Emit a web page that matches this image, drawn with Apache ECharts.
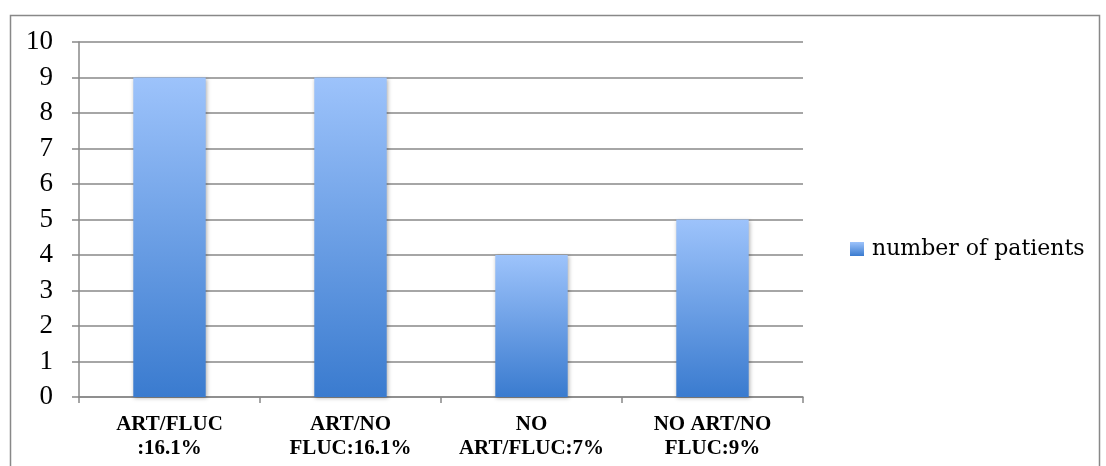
<!DOCTYPE html>
<html>
<head>
<meta charset="utf-8">
<script src="https://cdn.jsdelivr.net/npm/echarts@6/dist/echarts.min.js"></script>
<style>
html,body{margin:0;padding:0;background:#fff;}
#chart{width:1106px;height:466px;}
</style>
</head>
<body>
<div id="chart"></div>
<script>
const categories = ['ART/FLUC\n:16.1%', 'ART/NO\nFLUC:16.1%', 'NO\nART/FLUC:7%', 'NO ART/NO\nFLUC:9%'];
const patients = [9, 9, 4, 5];
const seriesName = 'number of patients';

const chart = echarts.init(document.getElementById('chart'));
function grad() {
  return new echarts.graphic.LinearGradient(0, 0, 0, 1, [
    {offset: 0, color: '#9dc3fb'},
    {offset: 1, color: '#3a7bcf'}
  ]);
}
chart.setOption({
  animation: false,
  backgroundColor: '#fff',
  graphic: [{
    type: 'rect', left: 8, top: 13, shape: {x: 0, y: 0, width: 1089, height: 470},
    style: {fill: 'none', stroke: '#888', lineWidth: 1.5}, z: -1
  }],
  grid: {left: 79, top: 42, right: 303, bottom: 69},
  legend: {
    show: true, left: 845, top: 232, icon: 'rect', itemWidth: 14, itemHeight: 14,
    textStyle: {fontFamily: 'DejaVu Serif', fontSize: 22, lineHeight: 24, color: '#000', padding: [0, 0, 0, 3]},
    data: [{name: seriesName, itemStyle: {color: grad()}}]
  },
  xAxis: {
    type: 'category', data: categories,
    axisLine: {lineStyle: {color: '#888', width: 1.5}},
    axisTick: {show: true, length: 6, lineStyle: {color: '#888', width: 1.5}},
    axisLabel: {interval: 0, margin: 16, fontFamily: 'Liberation Serif', fontWeight: 'bold', fontSize: 21, color: '#000', lineHeight: 24}
  },
  yAxis: {
    type: 'value', min: 0, max: 10, interval: 1,
    axisLine: {show: true, lineStyle: {color: '#888', width: 1.5}},
    axisTick: {show: true, length: 7, lineStyle: {color: '#888', width: 1.5}},
    splitLine: {lineStyle: {color: '#888', width: 1.5}},
    axisLabel: {margin: 26, fontFamily: 'Liberation Serif', fontSize: 27, color: '#000'}
  },
  series: [{
    name: seriesName, type: 'bar', data: patients,
    barCategoryGap: '60%',
    itemStyle: {color: grad(), shadowBlur: 4, shadowColor: 'rgba(0,0,0,0.3)', shadowOffsetX: 1, shadowOffsetY: 1}
  }]
});
</script>
</body>
</html>
